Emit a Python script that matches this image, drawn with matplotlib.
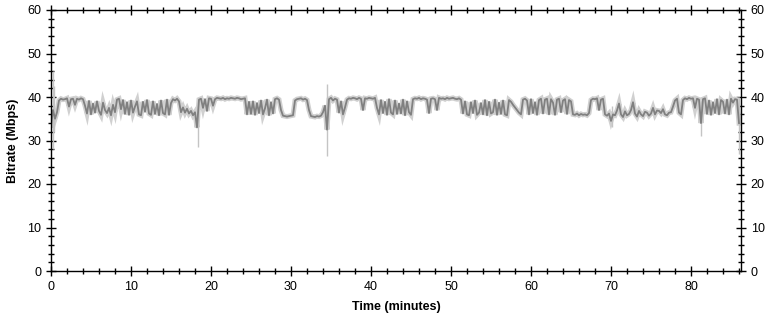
import matplotlib
matplotlib.use("Agg")
import matplotlib.pyplot as plt
from matplotlib.ticker import MultipleLocator

plt.rcParams['font.family'] = ['Liberation Sans', 'DejaVu Sans']

step = 0.25
bitrate = [
    33.5, 37.0, 35.0, 36.5, 39.2, 39.6, 39.4, 39.5, 39.7, 37.8, 39.5, 39.6,
    38.2, 39.6, 39.4, 39.7, 39.5, 38.0, 36.2, 39.1, 36.0, 38.5, 36.4, 39.0,
    36.8, 35.9, 38.7, 37.0, 36.3, 37.5, 35.8, 38.2, 36.5, 39.4, 39.6, 37.2,
    39.3, 36.1, 38.8, 35.9,
    # 10 - 20
    39.2, 36.4, 37.8, 39.0, 36.0, 35.8, 38.9, 36.6, 39.3, 36.2, 35.9, 39.0,
    36.1, 38.4, 35.8, 39.2, 36.3, 36.0, 39.4, 35.9, 38.6, 39.5, 39.2, 39.6,
    39.0, 36.5, 37.6, 36.4, 37.3, 36.2, 36.8, 35.8, 36.5, 33.0, 39.4, 39.6,
    37.5, 39.5, 36.8, 39.7,
    # 20 - 30
    39.6, 38.0, 39.5, 39.8, 39.7, 39.6, 39.8, 39.5, 39.7, 39.6, 39.8, 39.7,
    39.6, 39.8, 39.7, 39.5, 39.6, 39.7, 36.0, 38.9, 36.1, 39.0, 35.9, 38.6,
    36.3, 39.2, 36.0, 37.4, 39.4, 35.8, 38.8, 36.2, 39.5, 39.7, 39.4, 37.0,
    35.7, 35.6, 35.5, 35.6,
    # 30 - 40
    35.7, 35.8, 39.2, 39.5, 39.6, 39.7, 39.4, 39.6, 39.3, 37.0, 35.6, 35.5,
    35.4, 35.6, 35.5, 35.7, 36.5, 38.0, 32.5, 39.5, 39.8, 39.2, 39.6, 39.4,
    36.4, 39.0, 36.0, 37.6, 39.4, 39.7, 39.6, 39.8, 39.7, 39.5, 39.8, 39.6,
    37.0, 39.7, 39.6, 39.8,
    # 40 - 50
    39.7, 39.6, 39.8, 37.5, 36.0, 39.3, 36.3, 38.9, 35.9, 39.5, 36.4, 36.0,
    39.2, 36.1, 38.5, 36.2, 39.4, 35.8, 39.0, 36.5, 35.9, 39.5, 39.7, 39.6,
    39.8, 39.5, 39.7, 39.6, 39.4, 36.3, 39.6, 39.7, 39.5, 37.0, 39.8, 39.6,
    39.7, 39.5, 39.8, 39.6,
    # 50 - 60
    39.7, 39.8, 39.6, 39.5, 39.7, 39.4, 36.2, 39.0, 36.0, 35.8, 38.8, 36.3,
    39.2, 35.9, 36.4, 38.6, 36.0, 39.3, 35.8, 38.9, 36.2, 36.5, 39.4, 35.9,
    38.7, 36.1, 39.2, 36.0, 35.8, 39.3, 38.9, 38.2, 37.6, 37.0, 36.4, 36.0,
    39.4, 39.6, 39.2, 36.0,
    # 60 - 70
    39.5, 36.3, 38.8, 35.9, 39.3, 39.6, 36.2, 39.4, 39.6, 36.0, 39.5, 38.7,
    35.9, 39.4, 39.6, 36.5, 39.2, 39.5, 36.1, 39.3, 39.0, 36.0, 35.9, 36.2,
    35.8, 36.1, 35.9, 36.0, 35.8, 36.3, 39.3, 39.6, 39.5, 39.7, 37.0, 39.4,
    39.6, 36.0, 35.7, 36.2,
    # 70 - 80
    34.5, 36.0, 35.8, 36.9, 38.5, 36.0, 35.4, 36.7, 35.8, 36.1, 37.0, 38.8,
    36.2, 35.5, 36.8, 36.0, 35.6, 36.6, 36.4, 35.7, 36.2, 37.5, 36.0, 36.9,
    36.8, 36.3, 37.2, 36.0, 35.8, 36.4, 36.5, 37.8, 39.2, 39.6, 36.4, 36.0,
    39.3, 39.7, 39.5, 39.8,
    # 80 - 86
    39.6, 39.7, 37.5, 39.6, 39.4, 34.0, 39.5, 39.7, 36.1, 39.2, 35.9, 38.8,
    36.3, 39.5, 36.0, 39.3, 38.9, 36.2, 39.4, 36.0, 39.6, 38.7, 39.5, 39.4,
    34.0,
]
minutes = [i * step for i in range(len(bitrate))]

# short spikes that only show in the light (per-second) trace
spike_t = [0.2, 0.4, 18.4, 34.5, 70.1, 81.3, 86.0]
spike_lo = [28.0, 32.0, 28.5, 26.5, 33.0, 31.0, 27.0]
spike_hi = [46.0, 42.5, 37.0, 43.0, 38.0, 39.0, 40.0]

fig = plt.figure(figsize=(7.7, 3.21), dpi=100)
ax = fig.add_axes([51 / 770, 50 / 321, 690 / 770, 261 / 321])

ax.plot(minutes, bitrate, color='#d0d0d0', lw=3.6, solid_joinstyle='miter')
ax.vlines(spike_t, spike_lo, spike_hi, color='#c4c4c4', lw=1)
ax.plot(minutes, bitrate, color='#808080', lw=1.3)

ax.set_xlim(0, 86.25)
ax.set_ylim(0, 60)
ax.xaxis.set_major_locator(MultipleLocator(10))
ax.xaxis.set_minor_locator(MultipleLocator(2))
ax.yaxis.set_major_locator(MultipleLocator(10))
ax.yaxis.set_minor_locator(MultipleLocator(2))
ax.tick_params(which='both', direction='inout', top=True, right=True,
               labelright=True, labelsize=9, width=1)
ax.tick_params(which='major', length=7)
ax.tick_params(which='minor', length=4)
for s in ax.spines.values():
    s.set_linewidth(1)

ax.set_xlabel('Time (minutes)', fontweight='bold', fontsize=9, labelpad=6)
ax.set_ylabel('Bitrate (Mbps)', fontweight='bold', fontsize=9, labelpad=6)

fig.savefig('out.png', dpi=100)
